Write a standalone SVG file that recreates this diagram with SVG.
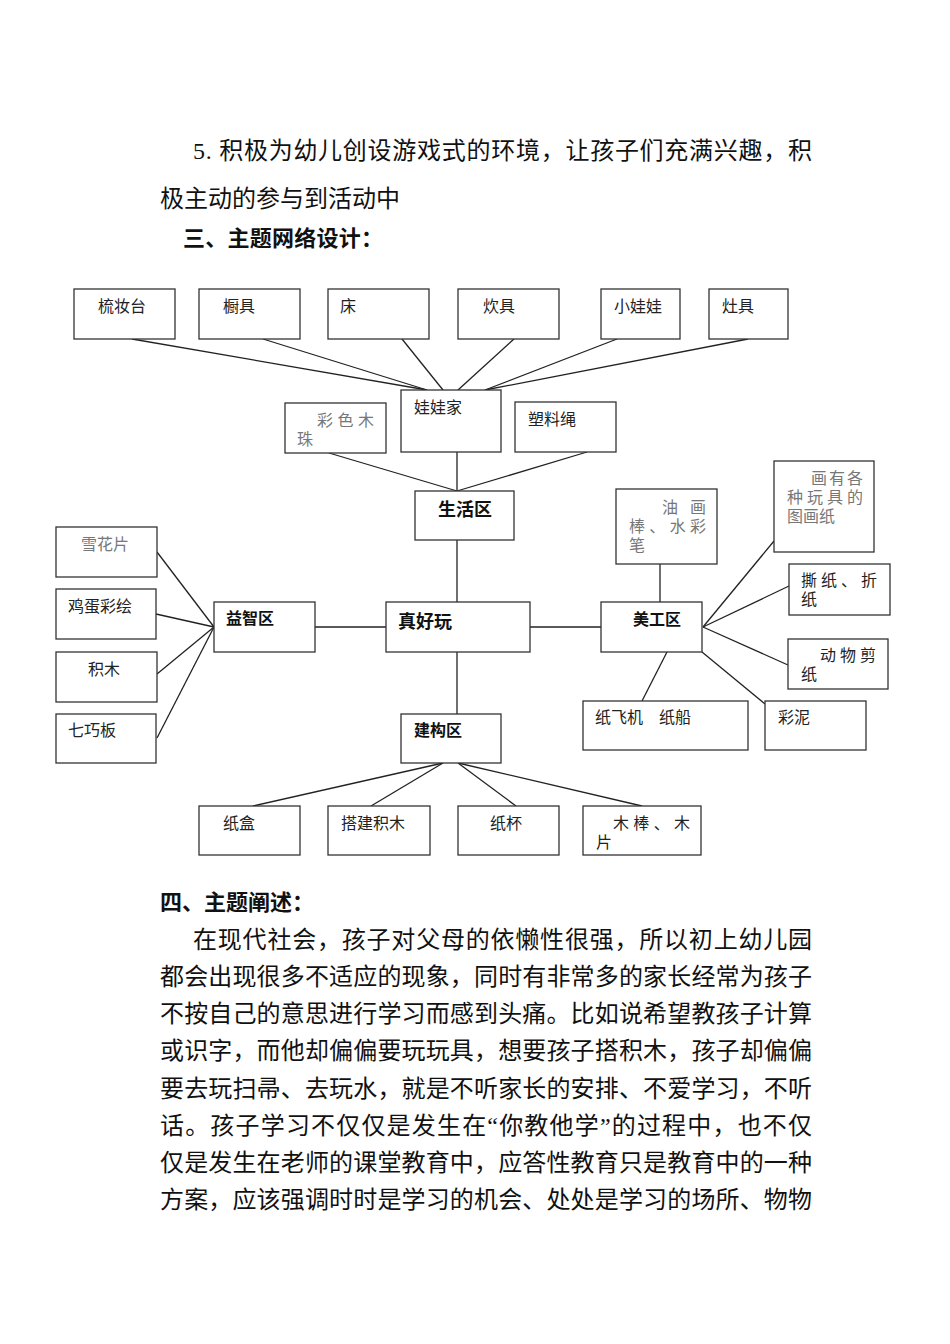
<svg xmlns="http://www.w3.org/2000/svg" width="950" height="1344" viewBox="0 0 950 1344">
<style>
.body{font-family:"Liberation Serif","Noto Sans CJK SC",serif;font-size:24px;fill:#111}
.head{font-family:"Noto Sans CJK SC",sans-serif;font-size:22px;font-weight:bold;fill:#111}
.box{fill:#fff;stroke:#333;stroke-width:1.3}
.lbl{font-family:"Noto Sans CJK SC",sans-serif;font-size:16px;fill:#222}
.gry{font-family:"Noto Sans CJK SC",sans-serif;font-size:16px;fill:#777}
.bld{font-family:"Noto Sans CJK SC",sans-serif;font-size:16px;font-weight:bold;fill:#111}
.big{font-family:"Noto Sans CJK SC",sans-serif;font-size:18px;font-weight:bold;fill:#111}
.con{stroke:#222;stroke-width:1.3;fill:none}
</style>
<rect width="950" height="1344" fill="#fff"/>
<g id="text-top">
<text class="body" x="193" y="159" textLength="619" lengthAdjust="spacing">5. 积极为幼儿创设游戏式的环境，让孩子们充满兴趣，积</text>
<text class="body" x="160" y="207">极主动的参与到活动中</text>
<text class="head" x="183" y="246" textLength="200" lengthAdjust="spacing">三、主题网络设计：</text>
</g>
<g id="connectors">
<line class="con" x1="132" y1="339" x2="427" y2="390"/>
<line class="con" x1="263" y1="339" x2="427" y2="390"/>
<line class="con" x1="402" y1="339" x2="443" y2="390"/>
<line class="con" x1="514" y1="339" x2="458" y2="390"/>
<line class="con" x1="617" y1="339" x2="485" y2="390"/>
<line class="con" x1="748" y1="339" x2="485" y2="390"/>
<line class="con" x1="457" y1="452" x2="457" y2="491"/>
<line class="con" x1="329" y1="453" x2="457" y2="491"/>
<line class="con" x1="587" y1="452" x2="457" y2="491"/>
<line class="con" x1="457" y1="540" x2="457" y2="602"/>
<line class="con" x1="457" y1="652" x2="457" y2="714"/>
<line class="con" x1="315" y1="627" x2="386" y2="627"/>
<line class="con" x1="530" y1="627" x2="601" y2="627"/>
<line class="con" x1="214" y1="627" x2="157" y2="552"/>
<line class="con" x1="214" y1="627" x2="156" y2="614"/>
<line class="con" x1="214" y1="627" x2="157" y2="674"/>
<line class="con" x1="214" y1="627" x2="157" y2="738"/>
<line class="con" x1="443" y1="763" x2="253" y2="806"/>
<line class="con" x1="443" y1="763" x2="371" y2="806"/>
<line class="con" x1="458" y1="763" x2="516" y2="806"/>
<line class="con" x1="458" y1="763" x2="642" y2="806"/>
<line class="con" x1="660" y1="602" x2="660" y2="564"/>
<line class="con" x1="703" y1="627" x2="774" y2="541"/>
<line class="con" x1="703" y1="627" x2="789" y2="586"/>
<line class="con" x1="703" y1="627" x2="788" y2="665"/>
<line class="con" x1="667" y1="652" x2="642" y2="701"/>
<line class="con" x1="702" y1="652" x2="765" y2="704"/>
</g>
<g id="n-shuzhuangtai"><rect class="box" x="74" y="289" width="101" height="50"/><text class="lbl" x="98" y="312">梳妆台</text></g>
<g id="n-chuju"><rect class="box" x="199" y="289" width="101" height="50"/><text class="lbl" x="223" y="312">橱具</text></g>
<g id="n-chuang"><rect class="box" x="328" y="289" width="101" height="50"/><text class="lbl" x="340" y="312">床</text></g>
<g id="n-chuiju"><rect class="box" x="458" y="289" width="101" height="50"/><text class="lbl" x="483" y="312">炊具</text></g>
<g id="n-xiaowawa"><rect class="box" x="601" y="289" width="79" height="50"/><text class="lbl" x="614" y="312">小娃娃</text></g>
<g id="n-zaoju"><rect class="box" x="709" y="289" width="79" height="50"/><text class="lbl" x="722" y="312">灶具</text></g>
<g id="n-wawajia"><rect class="box" x="401" y="390" width="100" height="62"/><text class="lbl" x="414" y="413">娃娃家</text></g>
<g id="n-caisemuzhu"><rect class="box" x="285" y="403" width="101" height="50"/><text class="gry" x="317" y="426" textLength="57" lengthAdjust="spacing">彩色木</text><text class="gry" x="297" y="445">珠</text></g>
<g id="n-suliaosheng"><rect class="box" x="515" y="402" width="101" height="50"/><text class="lbl" x="528" y="425">塑料绳</text></g>
<g id="n-shenghuoqu"><rect class="box" x="415" y="491" width="99" height="49"/><text class="big" x="438" y="516">生活区</text></g>
<g id="n-youhuabang"><rect class="box" x="616" y="489" width="101" height="75"/><text class="gry" x="662" y="513" textLength="44" lengthAdjust="spacing">油画</text><text class="gry" x="629" y="532" textLength="77" lengthAdjust="spacing">棒、水彩</text><text class="gry" x="629" y="551">笔</text></g>
<g id="n-huayouge"><rect class="box" x="774" y="461" width="100" height="91"/><text class="gry" x="811" y="484" textLength="52" lengthAdjust="spacing">画有各</text><text class="gry" x="787" y="503" textLength="76" lengthAdjust="spacing">种玩具的</text><text class="gry" x="787" y="522">图画纸</text></g>
<g id="n-xuehuapian"><rect class="box" x="56" y="527" width="101" height="50"/><text class="gry" x="81" y="550">雪花片</text></g>
<g id="n-jidancaihui"><rect class="box" x="56" y="589" width="100" height="50"/><text class="lbl" x="68" y="612">鸡蛋彩绘</text></g>
<g id="n-jimu"><rect class="box" x="56" y="652" width="101" height="50"/><text class="lbl" x="88" y="675">积木</text></g>
<g id="n-qiqiaoban"><rect class="box" x="56" y="714" width="100" height="49"/><text class="lbl" x="68" y="736">七巧板</text></g>
<g id="n-yizhiqu"><rect class="box" x="214" y="602" width="101" height="50"/><text class="bld" x="226" y="624">益智区</text></g>
<g id="n-zhenhaowan"><rect class="box" x="386" y="602" width="144" height="50"/><text class="big" x="398" y="628">真好玩</text></g>
<g id="n-meigongqu"><rect class="box" x="601" y="602" width="101" height="50"/><text class="bld" x="633" y="625">美工区</text></g>
<g id="n-sizhi"><rect class="box" x="789" y="564" width="101" height="51"/><text class="lbl" x="801" y="586" textLength="76" lengthAdjust="spacing">撕纸、折</text><text class="lbl" x="801" y="605">纸</text></g>
<g id="n-dongwujianzhi"><rect class="box" x="788" y="639" width="100" height="50"/><text class="lbl" x="820" y="661" textLength="56" lengthAdjust="spacing">动物剪</text><text class="lbl" x="801" y="680">纸</text></g>
<g id="n-zhifeiji"><rect class="box" x="583" y="701" width="165" height="49"/><text class="lbl" x="595" y="723">纸飞机　纸船</text></g>
<g id="n-caini"><rect class="box" x="765" y="701" width="101" height="49"/><text class="lbl" x="778" y="723">彩泥</text></g>
<g id="n-jiangouqu"><rect class="box" x="401" y="714" width="100" height="49"/><text class="bld" x="414" y="736">建构区</text></g>
<g id="n-zhihe"><rect class="box" x="199" y="806" width="101" height="49"/><text class="lbl" x="223" y="829">纸盒</text></g>
<g id="n-dajianjimu"><rect class="box" x="328" y="806" width="102" height="49"/><text class="lbl" x="341" y="829">搭建积木</text></g>
<g id="n-zhibei"><rect class="box" x="458" y="806" width="101" height="49"/><text class="lbl" x="490" y="829">纸杯</text></g>
<g id="n-mubang"><rect class="box" x="583" y="806" width="118" height="49"/><text class="lbl" x="613" y="829" textLength="77" lengthAdjust="spacing">木棒、木</text><text class="lbl" x="596" y="848">片</text></g>
<g id="text-bottom">
<text class="head" x="160" y="910" textLength="154" lengthAdjust="spacing">四、主题阐述：</text>
<text class="body" x="193" y="948" textLength="619" lengthAdjust="spacing">在现代社会，孩子对父母的依懒性很强，所以初上幼儿园</text>
<text class="body" x="160" y="985" textLength="652" lengthAdjust="spacing">都会出现很多不适应的现象，同时有非常多的家长经常为孩子</text>
<text class="body" x="160" y="1022" textLength="652" lengthAdjust="spacing">不按自己的意思进行学习而感到头痛。比如说希望教孩子计算</text>
<text class="body" x="160" y="1059" textLength="652" lengthAdjust="spacing">或识字，而他却偏偏要玩玩具，想要孩子搭积木，孩子却偏偏</text>
<text class="body" x="160" y="1097" textLength="652" lengthAdjust="spacing">要去玩扫帚、去玩水，就是不听家长的安排、不爱学习，不听</text>
<text class="body" x="160" y="1134" textLength="652" lengthAdjust="spacing">话。孩子学习不仅仅是发生在“你教他学”的过程中，也不仅</text>
<text class="body" x="160" y="1171" textLength="652" lengthAdjust="spacing">仅是发生在老师的课堂教育中，应答性教育只是教育中的一种</text>
<text class="body" x="160" y="1208" textLength="652" lengthAdjust="spacing">方案，应该强调时时是学习的机会、处处是学习的场所、物物</text>
</g>
</svg>
